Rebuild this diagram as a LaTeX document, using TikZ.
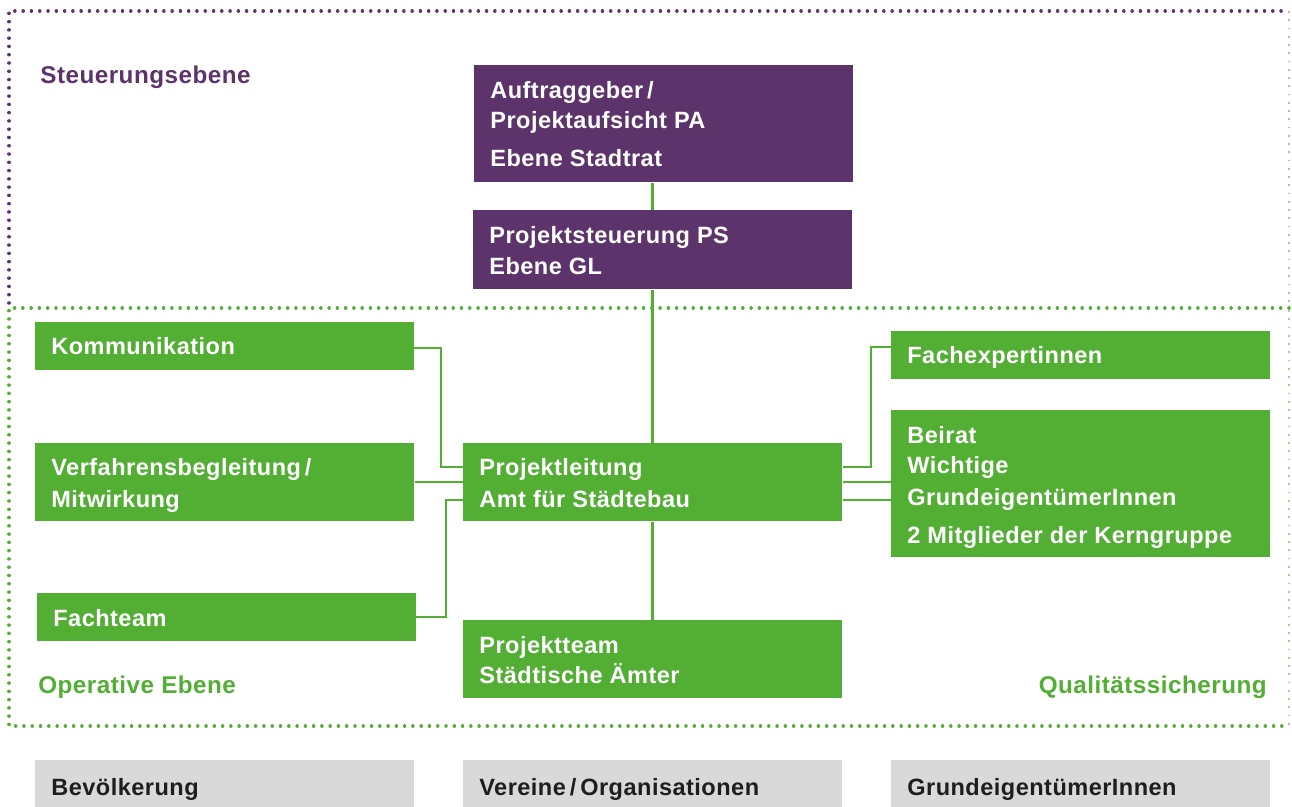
\documentclass[tikz,border=0pt]{standalone}
\usepackage{fontspec}
\setmainfont{Liberation Sans}[LetterSpace=2]
\usetikzlibrary{calc}
\definecolor{purp}{HTML}{5C336B}
\definecolor{grn}{HTML}{53AE34}
\definecolor{lgray}{HTML}{D9D9D9}
\definecolor{dtxt}{HTML}{1E1E1E}
\tikzset{
  pbox/.style={fill=purp, draw=none, rectangle, anchor=north west, inner sep=0pt, minimum width=7.58cm},
  gbox/.style={fill=grn, draw=none, rectangle, anchor=north west, inner sep=0pt, minimum width=7.58cm},
  graybox/.style={fill=lgray, draw=none, rectangle, anchor=north west, inner sep=0pt, minimum width=7.58cm},
  wtxt/.style={text=white, anchor=base west, inner sep=0pt, font=\fontsize{13.4}{15}\selectfont\bfseries},
  dtext/.style={text=dtxt, anchor=base west, inner sep=0pt, font=\fontsize{13.4}{15}\selectfont\bfseries},
  lvl/.style={anchor=base west, inner sep=0pt, font=\fontsize{13.8}{15}\selectfont\bfseries},
  conn/.style={draw=grn, line width=1.15pt},
  pdots/.style={draw=purp, line width=2pt, line cap=round, dash pattern=on 0.01pt off 4.7pt},
  gdots/.style={draw=grn, line width=2pt, line cap=round, dash pattern=on 0.01pt off 4.7pt},
  faint/.style={line width=0.6pt, dash pattern=on 1pt off 3.7pt}
}
\begin{document}
\begin{tikzpicture}[x=0.02cm, y=-0.02cm]
\useasboundingbox (0,0) rectangle (1292,807);
% dotted level borders
\draw[faint, draw=gray!55] (1289,11) -- (1289,306);
\draw[faint, draw=grn!55] (1289,310) -- (1289,726);
\draw[pdots] (9,303) -- (9,11) -- (1289,11);
\draw[gdots] (1289,308) -- (9,308) -- (9,726) -- (1289,726);

\node[lvl, text=purp] (lsteu) at (40,84) {Steuerungsebene};
\node[lvl, text=grn] (lop) at (38,693) {Operative Ebene};
\node[lvl, text=grn, anchor=base east] (lqual) at (1267,693) {Qualitätssicherung};

% boxes
\node[pbox, minimum height=2.34cm] (auf) at (474,65) {};
\node[pbox, minimum height=1.58cm] (ps) at (473,210) {};
\node[gbox, minimum height=0.96cm] (komm) at (35,322) {};
\node[gbox, minimum height=1.56cm] (verf) at (35,443) {};
\node[gbox, minimum height=0.96cm] (fach) at (37,593) {};
\node[gbox, minimum height=1.56cm] (pl) at (463,443) {};
\node[gbox, minimum height=1.56cm] (pt) at (463,620) {};
\node[gbox, minimum height=0.96cm] (fexp) at (891,331) {};
\node[gbox, minimum height=2.94cm] (beirat) at (891,410) {};
\node[graybox, minimum height=1.0cm] (bev) at (35,760) {};
\node[graybox, minimum height=1.0cm] (ver) at (463,760) {};
\node[graybox, minimum height=1.0cm] (grund) at (891,760) {};

% texts
\node[wtxt] (t1) at (490,99) {Auftraggeber\,/};
\node[wtxt] (t2) at (490,129) {Projektaufsicht PA};
\node[wtxt] (t3) at (490,167) {Ebene Stadtrat};
\node[wtxt] (t4) at (489,244) {Projektsteuerung PS};
\node[wtxt] (t5) at (489,275) {Ebene GL};
\node[wtxt] (t6) at (51,355) {Kommunikation};
\node[wtxt] (t7) at (51,476) {Verfahrensbegleitung\,/};
\node[wtxt] (t8) at (51,507) {Mitwirkung};
\node[wtxt] (t9) at (53,626) {Fachteam};
\node[wtxt] (t10) at (479,476) {Projektleitung};
\node[wtxt] (t11) at (479,507) {Amt für Städtebau};
\node[wtxt] (t12) at (479,653) {Projektteam};
\node[wtxt] (t13) at (479,683) {Städtische Ämter};
\node[wtxt] (t14) at (907,364) {Fachexpertinnen};
\node[wtxt] (t15) at (907,444) {Beirat};
\node[wtxt] (t16) at (907,474) {Wichtige};
\node[wtxt] (t17) at (907,505) {GrundeigentümerInnen};
\node[wtxt] (t18) at (907,543) {2 Mitglieder der Kerngruppe};
\node[dtext] (t19) at (51,795) {Bevölkerung};
\node[dtext] (t20) at (479,795) {Vereine\,/\,Organisationen};
\node[dtext] (t21) at (907,795) {GrundeigentümerInnen};

% connectors
\coordinate (spine) at (652.5,0);
\draw[conn] (spine |- auf.south) -- (spine |- ps.north);
\draw[conn] (spine |- ps.south) -- (spine |- pl.north);
\draw[conn] (spine |- pl.south) -- (spine |- pt.north);
\coordinate (kA) at (414,348);
\coordinate (kB) at (441,467);
\draw[conn] (kA) -| (kB) -- (kB -| pl.west);
\draw[conn] (verf.east) -- (pl.west);
\coordinate (fA) at (416,617);
\coordinate (fB) at (446,500);
\draw[conn] (fA) -| (fB) -- (fB -| pl.west);
\coordinate (eA) at (871,467);
\coordinate (eB) at (871,347);
\draw[conn] (eA -| pl.east) -- (eA) |- (eB -| fexp.west);
\coordinate (bA) at (0,482);
\coordinate (bB) at (0,500);
\draw[conn] (bA -| pl.east) -- (bA -| beirat.west);
\draw[conn] (bB -| pl.east) -- (bB -| beirat.west);
\end{tikzpicture}
\end{document}
